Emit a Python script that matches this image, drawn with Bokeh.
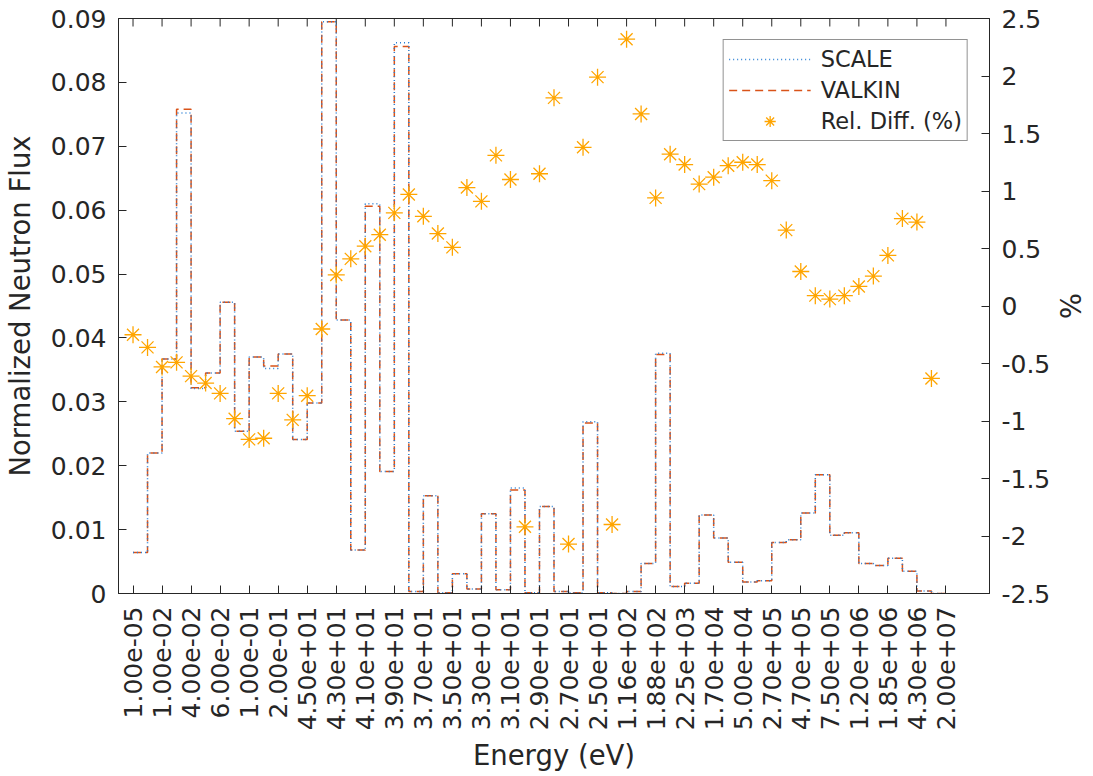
import math
from bokeh.plotting import figure
from bokeh.models import (Range1d, LinearAxis, FixedTicker, CustomJSTickFormatter,
                          Legend, LegendItem)
from bokeh.embed import file_html
from bokeh.resources import INLINE

# ---------------- data ----------------
energy_labels = [
    "1.00e-05", "1.00e-02", "4.00e-02", "6.00e-02", "1.00e-01", "2.00e-01",
    "4.50e+01", "4.30e+01", "4.10e+01", "3.90e+01", "3.70e+01", "3.50e+01",
    "3.30e+01", "3.10e+01", "2.90e+01", "2.70e+01", "2.50e+01", "1.16e+02",
    "1.88e+02", "2.25e+03", "1.70e+04", "5.00e+04", "2.70e+05", "4.70e+05",
    "7.50e+05", "1.20e+06", "1.85e+06", "4.30e+06", "2.00e+07",
]

valkin_flux = [
    0.0064, 0.0220, 0.0367, 0.0758, 0.0322, 0.0345, 0.0456, 0.0254, 0.0370, 0.0356,
    0.0375, 0.0241, 0.0298, 0.0895, 0.0428, 0.0068, 0.0606, 0.0191, 0.0856, 0.0003,
    0.0153, 0.0001, 0.0031, 0.0007, 0.0125, 0.0006, 0.0162, 0.0001, 0.0136, 0.0003,
    0.0001, 0.0267, 0.0001, 0.0000, 0.0003, 0.0047, 0.0374, 0.0011, 0.0016, 0.0123,
    0.0087, 0.0049, 0.0018, 0.0020, 0.0080, 0.0084, 0.0126, 0.0186, 0.0091, 0.0095,
    0.0047, 0.0044, 0.0055, 0.0035, 0.0004, 0.0000,
]

scale_flux = [
    0.0064, 0.0220, 0.0367, 0.0752, 0.0321, 0.0345, 0.0456, 0.0254, 0.0370, 0.0352,
    0.0375, 0.0241, 0.0298, 0.0895, 0.0428, 0.0068, 0.0610, 0.0191, 0.0862, 0.0003,
    0.0153, 0.0001, 0.0031, 0.0007, 0.0125, 0.0006, 0.0165, 0.0001, 0.0136, 0.0003,
    0.0001, 0.0269, 0.0001, 0.0000, 0.0003, 0.0047, 0.0376, 0.0011, 0.0016, 0.0123,
    0.0087, 0.0049, 0.0018, 0.0020, 0.0080, 0.0084, 0.0126, 0.0186, 0.0091, 0.0095,
    0.0047, 0.0044, 0.0055, 0.0035, 0.0004, 0.0000,
]

rel_diff_pct = [
    -0.25, -0.36, -0.53, -0.49, -0.61, -0.67, -0.76, -0.98, -1.16, -1.15,
    -0.76, -0.99, -0.78, -0.20, 0.27, 0.41, 0.52, 0.62, 0.81, 0.97,
    0.78, 0.63, 0.51, 1.03, 0.91, 1.31, 1.10, -1.92, 1.15, 1.81,
    -2.07, 1.38, 1.99, -1.90, 2.32, 1.67, 0.94, 1.32, 1.23, 1.06,
    1.12, 1.22, 1.25, 1.23, 1.09, 0.66, 0.30, 0.09, 0.06, 0.09,
    0.17, 0.26, 0.44, 0.76, 0.73, -0.63,
]

flux_ticks = [0, 0.01, 0.02, 0.03, 0.04, 0.05, 0.06, 0.07, 0.08, 0.09]
pct_ticks = [-2.5, -2, -1.5, -1, -0.5, 0, 0.5, 1, 1.5, 2, 2.5]

# ---------------- derived drawing arrays ----------------
n_bins = len(valkin_flux)
edges = list(range(n_bins + 1))
valkin_step = valkin_flux + [valkin_flux[-1]]
scale_step = scale_flux + [scale_flux[-1]]
bin_starts = list(range(n_bins))
x_tick_pos = [2 * i for i in range(len(energy_labels))]

FONT = "DejaVu Sans"
AX = "#262626"
Y_MAX = flux_ticks[-1]
FRAME_H = 575

p = figure(width=1090, height=774, output_backend="svg", toolbar_location=None,
           x_range=Range1d(-1, 59), y_range=Range1d(0, Y_MAX),
           min_border_left=118, min_border_right=101, min_border_top=18,
           min_border_bottom=181, background_fill_color="white",
           border_fill_color="white")
p.xgrid.visible = False
p.ygrid.visible = False
p.outline_line_color = AX
p.outline_line_width = 1

p.extra_y_ranges = {"pct": Range1d(-2.5, 2.5)}

fmt = CustomJSTickFormatter(code="return tick.toString();")

# bottom axis
xa = p.xaxis[0]
xa.ticker = FixedTicker(ticks=x_tick_pos)
xa.major_label_overrides = {x_tick_pos[i]: energy_labels[i] for i in range(len(energy_labels))}
xa.major_label_orientation = math.pi / 2
xa.axis_label = "Energy (eV)"

# left axis
ya = p.yaxis[0]
ya.ticker = FixedTicker(ticks=flux_ticks)
ya.formatter = fmt
ya.axis_label = "Normalized Neutron Flux"

# right axis
ra = LinearAxis(y_range_name="pct", ticker=FixedTicker(ticks=pct_ticks), formatter=fmt,
                axis_label="%")
p.add_layout(ra, "right")

for ax in [xa, ya, ra]:
    ax.axis_line_color = AX
    ax.axis_line_width = 1
    ax.major_tick_line_color = AX
    ax.major_tick_in = 8
    ax.major_tick_out = 0
    ax.minor_tick_line_color = None
    ax.major_label_text_font = FONT
    ax.major_label_text_color = AX
    ax.axis_label_text_font = FONT
    ax.axis_label_text_font_style = "normal"
    ax.axis_label_text_color = AX
    ax.major_label_text_font_size = "25px"
    ax.axis_label_text_font_size = "27.5px"
xa.major_label_standoff = 13
ya.major_label_standoff = 12
ra.major_label_standoff = 12
xa.axis_label_standoff = 6
ya.axis_label_standoff = 12
ra.axis_label_standoff = 1

# top-edge tick marks (box ticks, MATLAB style)
p.segment(x0=x_tick_pos, y0=[Y_MAX] * len(x_tick_pos), x1=x_tick_pos,
          y1=[Y_MAX * (1 - 8 / FRAME_H)] * len(x_tick_pos), line_color=AX, line_width=1)

# glyphs
r_valkin = p.step(edges, valkin_step, mode="after", line_color="#D95319",
                  line_dash="8 5", line_width=1.5)
r_scale = p.step(edges, scale_step, mode="after", line_color="#2a7fd4",
                 line_dash="1 3", line_width=1.5)
r_diff = p.scatter(x=bin_starts, y=rel_diff_pct, marker="asterisk", size=17,
                   line_color="#FFA500", line_width=1.3, y_range_name="pct")

legend = Legend(items=[LegendItem(label="SCALE", renderers=[r_scale]),
                       LegendItem(label="VALKIN", renderers=[r_valkin]),
                       LegendItem(label="Rel. Diff. (%)", renderers=[r_diff])],
                location="top_right", margin=21)
legend.label_text_font = FONT
legend.label_text_font_size = "22.5px"
legend.label_text_color = AX
legend.glyph_width = 82
legend.glyph_height = 28
legend.label_height = 28
legend.spacing = 3
legend.padding = 5
legend.label_standoff = 10
legend.border_line_color = AX
legend.border_line_width = 1
legend.background_fill_alpha = 1
p.add_layout(legend, "center")

open("out.html", "w").write(file_html(p, INLINE))
